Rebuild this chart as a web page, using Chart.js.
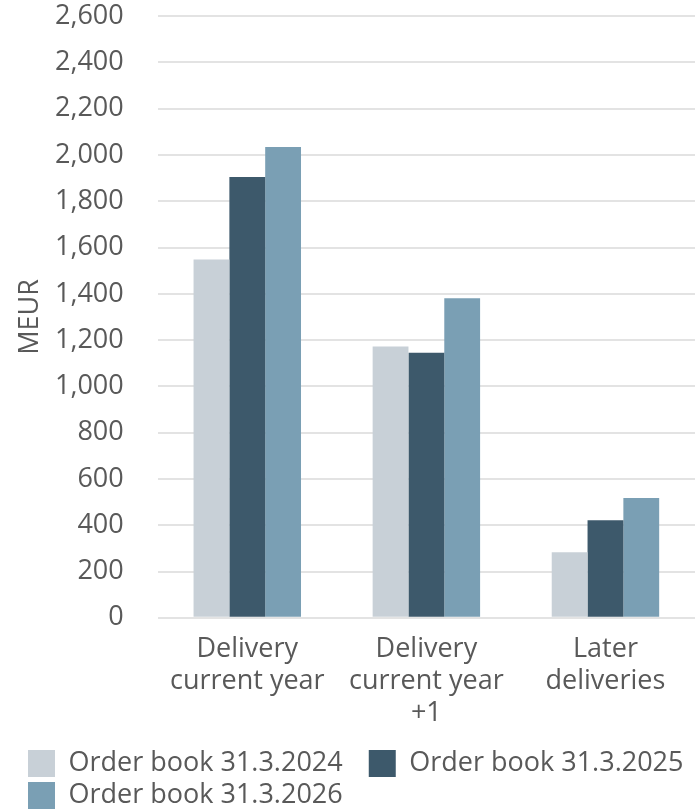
<!DOCTYPE html>
<html>
<head>
<meta charset="utf-8">
<script src="https://cdn.jsdelivr.net/npm/chart.js@4/dist/chart.umd.min.js"></script>
<style>
  body { margin: 0; background: #fff; }
  #myChart { display: block; }
</style>
</head>
<body>
<canvas id="myChart" width="695" height="809"></canvas>
<script>
// categories on the x axis (multi line labels)
const categories = [
  ['Delivery', 'current year'],
  ['Delivery', 'current year', '+1'],
  ['Later', 'deliveries']
];

// series names and values in MEUR
const seriesNames = ['Order book 31.3.2024', 'Order book 31.3.2025', 'Order book 31.3.2026'];
const orderBook2024 = [1548, 1172, 283];
const orderBook2025 = [1905, 1145, 422];
const orderBook2026 = [2035, 1381, 518];
const seriesColors = ['#c8d0d7', '#3d596b', '#7a9fb4'];

const textColor = '#595959';
const font = { family: "'Open Sans', sans-serif", size: 27, lineHeight: 1.2 };
const yTickPadding = 34;

const chartData = {
  labels: categories,
  datasets: [orderBook2024, orderBook2025, orderBook2026].map((values, i) => ({
    label: seriesNames[i],
    data: values,
    backgroundColor: seriesColors[i],
    categoryPercentage: 0.6,
    barPercentage: 1.0
  }))
};

const barConfig = {
  type: 'bar',
  data: chartData,
  options: {
    responsive: false,
    animation: false,
    layout: { padding: { top: 4, right: 0, left: 23, bottom: -10 } },
    plugins: {
      tooltip: { enabled: false },
      legend: {
        position: 'bottom',
        align: 'start',
        labels: {
          color: textColor,
          font: font,
          boxWidth: 27,
          boxHeight: 27,
          padding: 5,
          // a few spaces after the first item so the second one sits further right
          generateLabels: chart => Chart.defaults.plugins.legend.labels.generateLabels(chart)
            .map((item, i) => ({ ...item, text: i === 0 ? item.text + '   ' : item.text }))
        }
      }
    },
    scales: {
      x: {
        grid: { display: false },
        border: { display: false },
        ticks: { color: textColor, font: font, padding: 7, maxRotation: 0 },
        afterFit: scale => { scale.height += 8; }
      },
      y: {
        min: 0,
        max: 2600,
        grid: { color: '#e3e3e3', lineWidth: 2, drawTicks: false },
        border: { display: false },
        ticks: {
          stepSize: 200,
          color: textColor,
          font: font,
          padding: yTickPadding,
          callback: v => v.toLocaleString('en-US')
        },
        title: {
          display: true,
          text: 'MEUR',
          color: textColor,
          font: { ...font, lineHeight: 1.0 },
          padding: { top: -6, bottom: 11 }
        },
        // tick padding is only wanted between labels and plot, not above/below the axis
        afterFit: scale => {
          scale.width -= yTickPadding;
          scale.paddingTop -= yTickPadding;
          scale.paddingBottom -= yTickPadding;
        }
      }
    }
  }
};

const myChart = new Chart(document.getElementById('myChart'), barConfig);
</script>
</body>
</html>
